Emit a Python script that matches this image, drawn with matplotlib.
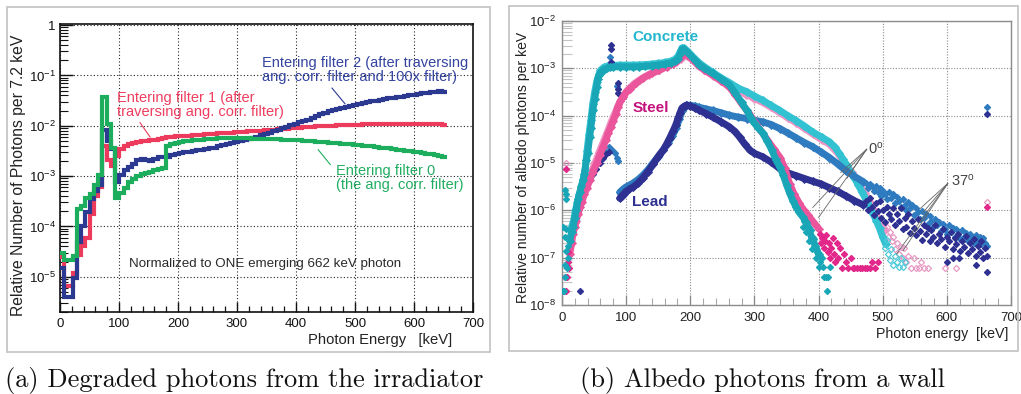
import matplotlib
matplotlib.use("Agg")
import matplotlib.pyplot as plt
import numpy as np
from matplotlib.ticker import MultipleLocator, LogLocator, FuncFormatter, NullFormatter
from matplotlib.patches import Rectangle

plt.rcParams['font.family'] = ['Liberation Sans', 'DejaVu Sans']
plt.rcParams['mathtext.fontset'] = 'custom'
plt.rcParams['mathtext.rm'] = 'Liberation Sans'
plt.rcParams['mathtext.it'] = 'Liberation Sans:italic'
plt.rcParams['mathtext.bf'] = 'Liberation Sans:bold'

# ---------------- (a) spectra entering the filters, 7.2 keV bins ----------------
BIN_WIDTH = 7.2
filter2 = [1.5e-5, 3.9e-6, 3.9e-6, 9.5e-6, 5.0e-5, 1.0e-4, 1.9e-4, 3.5e-4, 5.0e-4, 6.8e-4,
           8.3e-3, 4.9e-3, 3.4e-3, 7.5e-4, 1.05e-3, 1.3e-3, 1.5e-3, 1.75e-3, 2.1e-3, 2.2e-3,
           2.1e-3, 2.0e-3, 2.2e-3, 2.35e-3, 2.4e-3, 2.45e-3, 2.6e-3, 2.75e-3, 2.85e-3, 2.95e-3,
           3.05e-3, 3.15e-3, 3.25e-3, 3.35e-3, 3.45e-3, 3.55e-3, 3.7e-3, 3.9e-3, 4.1e-3, 4.4e-3,
           4.6e-3, 4.8e-3, 5.0e-3, 5.2e-3, 5.5e-3, 5.8e-3, 6.1e-3, 6.5e-3, 6.9e-3, 7.3e-3,
           7.8e-3, 8.3e-3, 8.9e-3, 9.6e-3, 1.03e-2, 1.1e-2, 1.18e-2, 1.26e-2, 1.33e-2, 1.42e-2,
           1.55e-2, 1.7e-2, 1.82e-2, 1.95e-2, 2.05e-2, 2.15e-2, 2.25e-2, 2.4e-2, 2.5e-2, 2.6e-2,
           2.7e-2, 2.85e-2, 2.95e-2, 3.05e-2, 3.15e-2, 3.3e-2, 3.4e-2, 3.5e-2, 3.6e-2, 3.7e-2,
           3.8e-2, 3.9e-2, 4.0e-2, 4.15e-2, 4.25e-2, 4.4e-2, 4.5e-2, 4.6e-2, 4.7e-2, 4.8e-2,
           4.75e-2]
filter1 = [2.5e-5, 6.6e-6, 6.6e-6, 1.2e-5, 2.7e-5, 4.0e-5, 6.0e-5, 1.8e-4, 4.0e-4, 6.0e-4,
           3.9e-3, 2.1e-3, 1.6e-3, 2.5e-3, 3.4e-3, 4.0e-3, 4.4e-3, 4.6e-3, 4.8e-3, 4.9e-3,
           5.0e-3, 5.1e-3, 5.2e-3, 5.4e-3, 5.8e-3, 6.0e-3, 6.1e-3, 6.15e-3, 6.2e-3, 6.3e-3,
           6.4e-3, 6.5e-3, 6.6e-3, 6.7e-3, 6.8e-3, 6.9e-3, 7.0e-3, 7.05e-3, 7.1e-3, 7.2e-3,
           7.3e-3, 7.4e-3, 7.5e-3, 7.6e-3, 7.7e-3, 7.8e-3, 7.9e-3, 8.0e-3, 8.1e-3, 8.2e-3,
           8.35e-3, 8.5e-3, 8.6e-3, 8.75e-3, 8.9e-3, 9.0e-3, 9.15e-3, 9.3e-3, 9.45e-3, 9.6e-3,
           9.7e-3, 9.8e-3, 9.9e-3, 1.0e-2, 1.01e-2, 1.02e-2, 1.03e-2, 1.04e-2, 1.04e-2, 1.05e-2,
           1.05e-2, 1.06e-2, 1.06e-2, 1.07e-2, 1.07e-2, 1.07e-2, 1.08e-2, 1.08e-2, 1.08e-2, 1.08e-2,
           1.09e-2, 1.09e-2, 1.09e-2, 1.09e-2, 1.09e-2, 1.08e-2, 1.08e-2, 1.08e-2, 1.07e-2, 1.06e-2,
           1.05e-2]
filter0 = [3.0e-5, 2.2e-5, 2.2e-5, 2.6e-5, 2.2e-4, 2.6e-4, 3.6e-4, 4.5e-4, 6.8e-4, 1.05e-3,
           3.7e-2, 1.1e-2, 3.7e-3, 3.7e-4, 4.6e-4, 5.8e-4, 7.5e-4, 8.8e-4, 1.0e-3, 1.08e-3,
           1.15e-3, 1.22e-3, 1.3e-3, 1.38e-3, 1.45e-3, 3.9e-3, 4.3e-3, 4.6e-3, 4.75e-3, 4.9e-3,
           5.0e-3, 5.1e-3, 5.2e-3, 5.3e-3, 5.4e-3, 5.5e-3, 5.55e-3, 5.6e-3, 5.6e-3, 5.6e-3,
           5.6e-3, 5.6e-3, 5.6e-3, 5.6e-3, 5.6e-3, 5.55e-3, 5.5e-3, 5.5e-3, 5.45e-3, 5.4e-3,
           5.4e-3, 5.35e-3, 5.3e-3, 5.3e-3, 5.25e-3, 5.2e-3, 5.1e-3, 5.0e-3, 4.95e-3, 4.9e-3,
           4.85e-3, 4.75e-3, 4.7e-3, 4.6e-3, 4.5e-3, 4.45e-3, 4.4e-3, 4.3e-3, 4.25e-3, 4.2e-3,
           4.1e-3, 4.05e-3, 3.95e-3, 3.9e-3, 3.8e-3, 3.7e-3, 3.6e-3, 3.55e-3, 3.45e-3, 3.35e-3,
           3.3e-3, 3.2e-3, 3.1e-3, 3.0e-3, 2.95e-3, 2.9e-3, 2.8e-3, 2.7e-3, 2.6e-3, 2.5e-3,
           2.4e-3]

# ---------------- (b) albedo spectra, 0 deg and 37 deg incidence ----------------
conc0_e = [12, 15, 17, 20, 22, 25, 28, 30, 33, 35, 38, 40, 43, 45, 48, 51, 54, 56, 58, 61,
           65, 70, 75, 80, 90, 100, 110, 120, 130, 140, 150, 160, 170, 176, 181, 184, 187, 190, 195, 200,
           207, 214, 222, 235, 248, 261, 270, 280, 288, 295, 300, 306, 313, 320, 327, 333, 340, 345, 350, 355,
           360, 365, 370, 376, 380, 384, 389, 395, 400, 403]
conc0_v = [2.3e-7, 3.5e-7, 4.4e-7, 7e-7, 1.0e-6, 1.7e-6, 2.45e-6, 3.2e-6, 4.3e-6, 6e-6,
           1.15e-5, 1.6e-5, 3.5e-5, 5.5e-5, 1.29e-4, 2.3e-4, 4.1e-4, 6.0e-4, 7.2e-4, 8.5e-4,
           9.4e-4, 1.0e-3, 1.05e-3, 1.07e-3, 1.08e-3, 1.07e-3, 1.07e-3, 1.08e-3, 1.1e-3, 1.13e-3,
           1.17e-3, 1.22e-3, 1.3e-3, 1.4e-3, 1.6e-3, 2.0e-3, 2.5e-3, 2.55e-3, 2.2e-3, 1.9e-3,
           1.5e-3, 1.2e-3, 1.0e-3, 7.8e-4, 6.0e-4, 4.5e-4, 3.0e-4, 1.9e-4, 1.29e-4, 9e-5,
           7e-5, 5.5e-5, 4.3e-5, 2.9e-5, 1.9e-5, 1.2e-5, 8.1e-6, 5.5e-6, 3.5e-6, 2.3e-6,
           1.6e-6, 1.17e-6, 9e-7, 7.1e-7, 5.6e-7, 4.4e-7, 2.7e-7, 1.78e-7, 1.2e-7, 1.02e-7]
conc0_tail_e = [1, 2, 3, 4, 4, 5, 5, 6, 6, 7, 7, 8, 9, 10,
                372, 375, 378, 381, 385, 388, 390, 393, 396, 398, 400, 402, 405, 407, 409, 411, 413, 415, 418]
conc0_tail_v = [2e-8, 4.4e-7, 2e-8, 4e-8, 2.7e-7, 7e-8, 2.7e-6, 2.2e-6, 1.4e-7, 4e-7, 1.7e-6, 6e-8, 1.8e-7, 1.0e-7,
                8e-7, 4.5e-7, 6e-7, 3.5e-7, 2.2e-7, 3.8e-7, 1.5e-7, 2.5e-7, 1.0e-7, 1.3e-7, 6.3e-8, 8e-8,
                1.0e-7, 6.3e-8, 4e-8, 4e-8, 2e-8, 4e-8, 6.3e-8]

conc37_e = [14, 18, 21, 24, 27, 30, 33, 36, 39, 42, 45, 48, 51, 54, 57, 60, 65, 70, 80, 90,
            100, 110, 120, 130, 140, 150, 160, 170, 176, 181, 184, 187, 190, 195, 200, 207, 214, 222, 235, 248,
            261, 275, 288, 300, 313, 326, 339, 352, 365, 378, 391, 405, 417, 425, 432, 438, 444, 450, 456, 462,
            468, 474, 480, 485, 490, 495, 500, 505]
conc37_v = [4e-7, 6e-7, 1.0e-6, 1.5e-6, 2.2e-6, 3.0e-6, 4.5e-6, 7e-6, 1.8e-5, 4e-5,
            8e-5, 1.8e-4, 3.2e-4, 5.2e-4, 7.2e-4, 9e-4, 1.05e-3, 1.1e-3, 1.15e-3, 1.17e-3,
            1.17e-3, 1.17e-3, 1.18e-3, 1.2e-3, 1.23e-3, 1.27e-3, 1.33e-3, 1.42e-3, 1.55e-3, 1.8e-3,
            2.2e-3, 2.7e-3, 2.7e-3, 2.35e-3, 2.0e-3, 1.6e-3, 1.3e-3, 1.08e-3, 8.2e-4, 6.3e-4,
            5.0e-4, 3.8e-4, 3.2e-4, 2.6e-4, 2.1e-4, 1.65e-4, 1.3e-4, 1.0e-4, 7.9e-5, 6.0e-5,
            4.5e-5, 3.5e-5, 2.8e-5, 2.2e-5, 1.6e-5, 1.2e-5, 9e-6, 6.5e-6, 4.8e-6, 3.4e-6,
            2.4e-6, 1.7e-6, 1.2e-6, 8.5e-7, 6e-7, 4.2e-7, 2.7e-7, 1.9e-7]
conc37_tail_e = [503, 506, 508, 511, 513, 516, 519, 522, 525, 528, 532, 535]
conc37_tail_v = [1.6e-7, 2.4e-7, 1.2e-7, 9e-8, 1.5e-7, 7e-8, 1.1e-7, 8e-8, 6.3e-8, 1.0e-7, 6.3e-8, 8e-8]

steel0_e = [12, 15, 17, 20, 22, 25, 28, 31, 35, 39, 43, 48, 54, 59, 64, 68, 72, 76, 80, 84,
            87, 91, 95, 100, 106, 115, 126, 140, 152, 163, 173, 179, 184, 187, 189, 195, 200, 207, 214, 222,
            235, 248, 261, 270, 280, 290, 300, 310, 320, 330, 340, 347, 355, 362, 370, 377, 384, 392, 400]
steel0_v = [1.2e-7, 2.0e-7, 3.2e-7, 4.5e-7, 6.0e-7, 8.5e-7, 1.17e-6, 1.5e-6, 2.24e-6, 3.0e-6,
            4.3e-6, 6.5e-6, 9.8e-6, 1.5e-5, 2.2e-5, 3.0e-5, 4.2e-5, 5.8e-5, 7.9e-5, 1.1e-4,
            1.5e-4, 2.0e-4, 2.5e-4, 3.1e-4, 3.7e-4, 4.8e-4, 6.2e-4, 7.8e-4, 9.1e-4, 1.08e-3,
            1.26e-3, 1.42e-3, 1.62e-3, 1.85e-3, 2.09e-3, 1.9e-3, 1.7e-3, 1.4e-3, 1.12e-3, 9.3e-4,
            7.2e-4, 5.5e-4, 4.0e-4, 2.8e-4, 1.8e-4, 1.2e-4, 7.5e-5, 4.8e-5, 3.1e-5, 2.0e-5,
            1.3e-5, 8e-6, 3.6e-6, 2.2e-6, 1.4e-6, 1.0e-6, 7.8e-7, 5.6e-7, 4.1e-7]
steel0_tail_e = [2, 3, 5, 6, 7, 8, 9, 10, 11,
                 402, 404, 406, 408, 410, 412, 414, 416, 418, 420, 422, 424, 426, 428, 431, 434, 437, 440,
                 443, 446, 450, 453, 456, 460, 464, 468, 472, 476, 480, 484, 488, 492, 662]
steel0_tail_v = [2e-8, 2e-8, 4e-8, 7.5e-6, 2e-8, 4e-8, 1.3e-7, 8e-8, 6e-8,
                 3.2e-7, 2.0e-7, 2.6e-7, 1.6e-7, 2.3e-7, 3.0e-7, 1.3e-7, 2.0e-7, 1.0e-7, 1.6e-7, 2.6e-7,
                 1.2e-7, 8e-8, 2.0e-7, 1.0e-7, 1.6e-7, 6e-8, 1.2e-7, 8e-8, 6e-8, 1.0e-7, 6e-8, 6e-8,
                 6e-8, 6e-8, 6e-8, 6e-8, 6e-8, 6e-8, 8e-8, 6e-8, 8e-8, 1.2e-6]

steel37_e = [20, 25, 30, 35, 40, 46, 52, 58, 64, 70, 76, 82, 88, 95, 103, 112, 122, 135, 150, 165,
             178, 185, 189, 195, 200, 207, 214, 222, 235, 248, 261, 275, 287, 300, 313, 326, 339, 352, 365, 378,
             391, 405, 417, 430, 443, 452, 464, 472, 480, 486, 492, 498, 504]
steel37_v = [5.5e-7, 1.0e-6, 1.6e-6, 2.6e-6, 4.0e-6, 6.5e-6, 1.05e-5, 1.7e-5, 2.7e-5, 4.3e-5,
             7.0e-5, 1.1e-4, 1.7e-4, 2.6e-4, 3.6e-4, 4.7e-4, 5.8e-4, 7.4e-4, 9.3e-4, 1.12e-3,
             1.35e-3, 1.6e-3, 2.0e-3, 1.85e-3, 1.65e-3, 1.35e-3, 1.1e-3, 9.2e-4, 7.0e-4, 5.4e-4,
             4.4e-4, 3.3e-4, 2.8e-4, 2.3e-4, 1.9e-4, 1.5e-4, 1.17e-4, 9e-5, 7.1e-5, 5.4e-5,
             4.1e-5, 3.1e-5, 2.5e-5, 1.6e-5, 8.8e-6, 6.3e-6, 3.6e-6, 2.3e-6, 1.5e-6, 1.0e-6,
             7e-7, 5e-7, 3.8e-7]
steel37_tail_e = [7, 506, 508, 511, 514, 516, 519, 522, 525, 528, 531, 533, 536, 540, 544, 548,
                  552, 556, 560, 565, 570, 597, 614, 662]
steel37_tail_v = [1.0e-5, 4.4e-7, 2.7e-7, 3.5e-7, 2.2e-7, 2.7e-7, 1.5e-7, 2.0e-7, 1.2e-7, 1.7e-7,
                  1.0e-7, 1.6e-7, 8e-8, 1.1e-7, 6e-8, 1.0e-7, 6e-8, 6e-8, 8e-8, 6e-8, 6e-8, 6e-8,
                  6e-8, 1.5e-6]

lead0_e = [90, 93, 96, 100, 105, 111, 118, 126, 134, 142, 147, 152, 158, 163, 168, 173, 177, 181, 184, 187,
           191, 194, 200, 207, 214, 225, 235, 248, 261, 270, 277, 285, 293, 300, 313, 326, 340, 352, 365, 378,
           391, 404, 417, 430, 443, 456, 470]
lead0_v = [1.8e-6, 2.0e-6, 2.2e-6, 2.5e-6, 2.8e-6, 3.1e-6, 3.7e-6, 4.8e-6, 6.6e-6, 9.3e-6,
           1.2e-5, 1.5e-5, 1.9e-5, 2.5e-5, 3.4e-5, 4.7e-5, 6.2e-5, 8.8e-5, 1.15e-4, 1.45e-4,
           1.6e-4, 1.66e-4, 1.6e-4, 1.45e-4, 1.3e-4, 1.1e-4, 9.3e-5, 7.4e-5, 5.8e-5, 4.6e-5,
           3.5e-5, 2.5e-5, 1.86e-5, 1.6e-5, 1.35e-5, 1.05e-5, 7.5e-6, 6.2e-6, 5.4e-6, 4.7e-6,
           4.1e-6, 3.6e-6, 3.0e-6, 2.5e-6, 2.0e-6, 1.6e-6, 1.3e-6]
lead0_tail_e = [22, 26, 28, 30, 34, 38, 43, 48, 53, 59, 64, 69, 73, 76, 76, 76, 87, 87, 87,
                474, 477, 480, 483, 486, 489, 492, 495, 498, 501, 504, 507, 510, 513, 516, 519, 522, 525,
                528, 531, 534, 537, 540, 543, 546, 549, 552, 555, 558, 561, 564, 567, 570, 573, 576, 579,
                582, 585, 588, 591, 594, 597, 600, 603, 606, 609, 612, 615, 618, 621, 624, 627, 630, 633,
                636, 639, 642, 645, 648, 651, 654, 657, 660, 663, 600, 610, 619, 645, 662, 662]
lead0_tail_v = [1.2e-6, 1.6e-6, 2e-8, 2.2e-6, 2.8e-6, 3.6e-6, 4.5e-6, 5.9e-6, 7.5e-6, 9.8e-6, 1.25e-5,
                1.58e-5, 1.7e-5, 3.1e-3, 2.6e-3, 1.38e-3, 4.8e-4, 3.7e-4, 3.0e-4,
                1.6e-6, 1.0e-6, 1.8e-6, 1.15e-6, 8e-7, 1.4e-6, 9.5e-7, 1.6e-6, 7e-7, 1.0e-6, 5.8e-7,
                1.15e-6, 8.5e-7, 6.5e-7, 1.1e-6, 5e-7, 8.5e-7, 6e-7, 1.1e-6, 4e-7, 7e-7, 4.5e-7,
                8.5e-7, 3.3e-7, 6e-7, 4.2e-7, 3e-7, 6.5e-7, 3.6e-7, 2.4e-7, 5e-7, 3.2e-7, 4.2e-7,
                2.2e-7, 3.8e-7, 2.8e-7, 5e-7, 2.0e-7, 3.2e-7, 2.5e-7, 4e-7, 1.7e-7, 2.8e-7, 2.2e-7,
                3.5e-7, 1.5e-7, 2.6e-7, 1.9e-7, 3.2e-7, 1.4e-7, 2.2e-7, 1.7e-7, 2.9e-7, 1.25e-7,
                2.0e-7, 1.5e-7, 2.5e-7, 1.1e-7, 1.8e-7, 1.3e-7, 2.2e-7, 1.0e-7, 1.6e-7, 1.1e-7,
                8e-8, 1.0e-7, 1.0e-7, 7e-8, 5e-8, 1.1e-4]

lead37_e = [90, 94, 98, 103, 110, 118, 126, 134, 142, 150, 158, 165, 172, 178, 183, 187, 191, 195, 200, 207,
            214, 225, 235, 248, 261, 275, 288, 300, 313, 326, 340, 352, 365, 378, 391, 404, 417, 430, 443, 456,
            470]
lead37_v = [2.4e-6, 2.7e-6, 3.0e-6, 3.3e-6, 3.7e-6, 4.4e-6, 5.5e-6, 7.2e-6, 1.0e-5, 1.35e-5,
            1.9e-5, 2.6e-5, 3.7e-5, 5.5e-5, 8.5e-5, 1.25e-4, 1.55e-4, 1.65e-4, 1.65e-4, 1.6e-4,
            1.5e-4, 1.38e-4, 1.29e-4, 1.15e-4, 1.02e-4, 9.3e-5, 8.7e-5, 8.0e-5, 7.4e-5, 6.5e-5,
            5.3e-5, 4.3e-5, 3.4e-5, 2.7e-5, 2.2e-5, 1.7e-5, 1.3e-5, 9.5e-6, 6.8e-6, 5.2e-6,
            4.0e-6]
lead37_tail_e = [28, 33, 38, 44, 50, 56, 62, 68, 73, 78, 82, 85, 87, 75, 86,
                 474, 477, 480, 483, 486, 489, 492, 495, 498, 501, 504, 507, 510, 513, 516, 519, 522, 525,
                 528, 531, 534, 537, 540, 543, 546, 549, 552, 555, 558, 561, 564, 567, 570, 573, 576, 579,
                 582, 585, 588, 591, 594, 597, 600, 603, 606, 609, 612, 615, 618, 621, 624, 627, 630, 633,
                 636, 639, 642, 645, 648, 651, 654, 657, 660, 663, 662]
lead37_tail_v = [2.4e-6, 3.2e-6, 4.2e-6, 5.6e-6, 7.4e-6, 1.0e-5, 1.3e-5, 1.7e-5, 2.2e-5, 1.9e-5,
                 1.6e-5, 1.3e-5, 1.1e-5, 1.74e-3, 4.2e-4,
                 3.8e-6, 2.9e-6, 3.6e-6, 3.2e-6, 2.5e-6, 3.3e-6, 2.4e-6, 2.9e-6, 2.0e-6, 2.6e-6, 2.2e-6,
                 1.7e-6, 2.4e-6, 1.8e-6, 2.2e-6, 1.4e-6, 1.9e-6, 1.6e-6, 1.2e-6, 1.7e-6, 1.3e-6, 1.0e-6,
                 1.5e-6, 1.1e-6, 1.3e-6, 8e-7, 1.1e-6, 9e-7, 6.5e-7, 9.5e-7, 7e-7, 8.5e-7, 5.2e-7, 7.5e-7,
                 6e-7, 4.5e-7, 6.5e-7, 4.8e-7, 5.8e-7, 3.6e-7, 5.2e-7, 4e-7, 3.2e-7, 4.8e-7, 3.5e-7,
                 4.2e-7, 2.8e-7, 4e-7, 3.2e-7, 2.5e-7, 3.8e-7, 2.8e-7, 3.4e-7, 2.2e-7, 3.2e-7, 2.6e-7,
                 2.0e-7, 3.0e-7, 2.4e-7, 2.8e-7, 1.9e-7, 2.6e-7, 2.0e-7, 1.8e-7, 1.5e-4]

# ---------------- figure layout (pixel boxes on a 1021 x 394 canvas) ----------------
W, H = 1021, 394
fig = plt.figure(figsize=(W / 100, H / 100), dpi=100)


def box(l, t, r, b):
    return [l / W, 1 - b / H, (r - l) / W, (b - t) / H]


def decade_label(v, pos):
    e = int(round(np.log10(v)))
    if e == 0:
        return '1'
    return r'$\mathregular{10^{%d}}$' % e


for l, t, r, b in [(7, 7, 490, 352), (509, 6, 1018, 351)]:
    fig.add_artist(Rectangle((l / W, 1 - b / H), (r - l) / W, (b - t) / H,
                             transform=fig.transFigure, fill=False,
                             ec='#C6C6C6', lw=1.3))

# ---------------- panel (a) ----------------
axL = fig.add_axes(box(60, 24, 473, 312))
edges = np.arange(len(filter2) + 1) * BIN_WIDTH
axL.stairs(filter1, edges, baseline=None, color='#EC3B5C', lw=3.0, zorder=3)
axL.stairs(filter2, edges, baseline=None, color='#2B3990', lw=3.0, zorder=4)
axL.stairs(filter0, edges, baseline=None, color='#1DAE5D', lw=3.0, zorder=5)

axL.set_xlim(0, 700)
axL.set_yscale('log')
axL.set_ylim(2e-6, 1.05)
axL.xaxis.set_major_locator(MultipleLocator(100))
axL.xaxis.set_minor_locator(MultipleLocator(20))
axL.yaxis.set_major_locator(LogLocator(base=10, numticks=20))
axL.yaxis.set_minor_locator(LogLocator(base=10, subs=np.arange(2, 10), numticks=20))
axL.yaxis.set_major_formatter(FuncFormatter(decade_label))
axL.yaxis.set_minor_formatter(NullFormatter())
axL.tick_params(which='both', direction='in', labelsize=9.5, colors='#111111')
axL.tick_params(axis='x', which='major', length=7, width=1.0, pad=4)
axL.tick_params(axis='x', which='minor', length=4, width=0.9)
axL.tick_params(axis='y', which='major', length=9, width=1.0, pad=3)
axL.tick_params(axis='y', which='minor', length=6, width=0.8)
axL.grid(True, which='major', color='#222222', linestyle=(0, (1, 2)), lw=0.8)
for s in axL.spines.values():
    s.set_linewidth(1.2)
    s.set_color('#111111')

axL.text(342, 0.126, 'Entering filter 2 (after traversing\nang. corr. filter and 100x filter)',
         color='#3444A0', fontsize=10.5, ha='left', va='center', linespacing=1.0)
axL.text(97, 0.026, 'Entering filter 1 (after\ntraversing ang. corr. filter)',
         color='#EE3D5F', fontsize=10.5, ha='left', va='center', linespacing=1.0)
axL.text(468, 9.3e-4, 'Entering filter 0\n(the ang. corr. filter)',
         color='#22AE62', fontsize=10.5, ha='left', va='center', linespacing=1.0)
axL.text(117, 1.78e-5, 'Normalized to ONE emerging 662 keV photon',
         color='#2A2A2A', fontsize=9.6, ha='left', va='center')
axL.plot([461, 483], [0.056, 0.0274], color='#2B3990', lw=0.8)
axL.plot([135.7, 152.6], [0.0115, 6.0e-3], color='#EC3B5C', lw=0.8)
axL.plot([437.6, 458], [3.35e-3, 1.7e-3], color='#1DAE5D', lw=0.8)

fig.text(19 / W, 1 - 175 / H, 'Relative Number of Photons per 7.2 keV',
         rotation=90, ha='center', va='center', fontsize=11.3, color='#222222')
fig.text(452 / W, 1 - 340 / H, 'Photon Energy   [keV]',
         ha='right', va='center', fontsize=10.6, color='#222222')

# ---------------- panel (b) ----------------
axR = fig.add_axes(box(562, 21, 1011, 305))


def band(e, v, color, z, lw=5.0, ms=3.8):
    axR.plot(e, v, '-', color=color, lw=lw, solid_joinstyle='round',
             solid_capstyle='round', zorder=z)
    axR.plot(e, v, 'D', ms=ms, color=color, mec=color, mew=0.6, ls='none', zorder=z)


def dots(e, v, face, edge, z, ms=3.1, mew=0.9):
    axR.plot(e, v, 'D', ms=ms, mfc=face, mec=edge, mew=mew, ls='none', zorder=z)


C_STEEL37 = '#EE93C3'
C_CONC37 = '#33C2D2'
C_LEAD37 = '#2F7BC0'
C_LEAD0 = '#2E3192'
C_STEEL0 = '#EA559C'
C_CONC0 = '#19A7B7'

band(steel37_e, steel37_v, C_STEEL37, 2)
dots(steel37_tail_e, steel37_tail_v, 'none', '#E79AC5', 2)
band(conc37_e, conc37_v, C_CONC37, 3)
dots(conc37_tail_e, conc37_tail_v, 'none', '#4FCBDA', 3)
band(lead37_e, lead37_v, C_LEAD37, 4)
dots(lead37_tail_e, lead37_tail_v, C_LEAD37, C_LEAD37, 4)
band(lead0_e, lead0_v, C_LEAD0, 5)
dots(lead0_tail_e, lead0_tail_v, C_LEAD0, C_LEAD0, 5)
band(steel0_e, steel0_v, C_STEEL0, 6)
dots(steel0_tail_e, steel0_tail_v, '#E2268A', '#E2268A', 6)
band(conc0_e, conc0_v, C_CONC0, 7)
dots(conc0_tail_e, conc0_tail_v, C_CONC0, C_CONC0, 7)

axR.set_xlim(0, 700)
axR.set_yscale('log')
axR.set_ylim(1e-8, 1e-2)
axR.xaxis.set_major_locator(MultipleLocator(100))
axR.xaxis.set_minor_locator(MultipleLocator(20))
axR.yaxis.set_major_locator(LogLocator(base=10, numticks=20))
axR.yaxis.set_minor_locator(LogLocator(base=10, subs=np.arange(2, 10), numticks=20))
axR.yaxis.set_major_formatter(FuncFormatter(decade_label))
axR.yaxis.set_minor_formatter(NullFormatter())
axR.tick_params(which='both', direction='in', labelsize=9.5, labelcolor='#222222')
axR.tick_params(axis='x', which='major', length=7, width=0.9, color='#888888', pad=5)
axR.tick_params(axis='x', which='minor', length=5, width=0.8, color='#AAAAAA')
axR.tick_params(axis='y', which='major', length=8, width=0.9, color='#888888', pad=4)
axR.tick_params(axis='y', which='minor', length=7, width=0.8, color='#C4C4C4')
axR.grid(True, which='major', color='#8C8C8C', linestyle=(0, (1, 1.5)), lw=0.8)
axR.set_axisbelow(True)
for s in axR.spines.values():
    s.set_linewidth(1.0)
    s.set_color('#8C8C8C')

axR.text(109.6, 4.6e-3, 'Concrete', color='#22B7CE', fontsize=11, fontweight='bold',
         ha='left', va='center', zorder=10)
axR.text(109.6, 1.44e-4, 'Steel', color='#C4137C', fontsize=11, fontweight='bold',
         ha='left', va='center', zorder=10)
axR.text(109.6, 1.48e-6, 'Lead', color='#2E3192', fontsize=11, fontweight='bold',
         ha='left', va='center', zorder=10)

axR.text(476.5, 2.0e-5, r'0$^{\mathregular{o}}$', color='#444444', fontsize=10.5,
         ha='left', va='center', zorder=10)
for ex, vy in [(391, 1.15e-6), (400, 7.1e-7), (434.6, 6.3e-6), (444, 4.7e-6)]:
    axR.plot([475, ex], [1.95e-5, vy], color='#666666', lw=0.6, zorder=9)
axR.text(607, 4.3e-6, r'37$^{\mathregular{o}}$', color='#444444', fontsize=10.5,
         ha='left', va='center', zorder=10)
for ex, vy in [(557.8, 1.07e-6), (563, 9.1e-7), (521.5, 1.2e-7), (531.7, 1.4e-7)]:
    axR.plot([601.4, ex], [3.7e-6, vy], color='#666666', lw=0.6, zorder=9)

fig.text(523 / W, 1 - 167.5 / H, 'Relative number of albedo photons per keV',
         rotation=90, ha='center', va='center', fontsize=10.1, color='#222222')
fig.text(1008 / W, 1 - 334 / H, 'Photon energy  [keV]',
         ha='right', va='center', fontsize=10.2, color='#222222')

# ---------------- captions ----------------
fig.text(244 / W, 1 - 381 / H, '(a) Degraded photons from the irradiator',
         family='cmr10', fontsize=19, ha='center', va='center', color='#111111')
fig.text(762 / W, 1 - 381 / H, '(b) Albedo photons from a wall',
         family='cmr10', fontsize=19, ha='center', va='center', color='#111111')

fig.savefig('out.png', dpi=100)
